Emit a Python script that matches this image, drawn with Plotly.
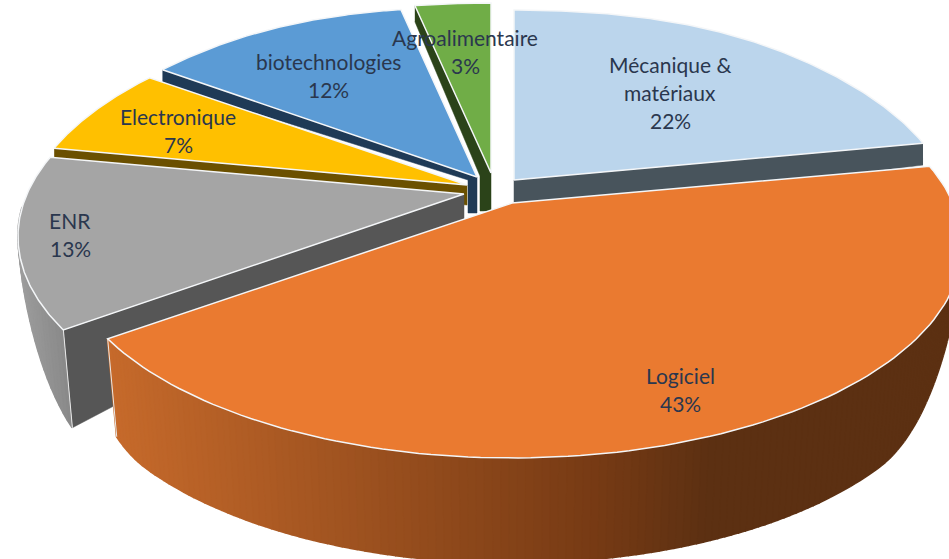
import numpy as np
import plotly.graph_objects as go

# ---- data ----
categories = ["Mécanique & matériaux", "Logiciel", "ENR", "Electronique", "biotechnologies", "Agroalimentaire"]
values = [22, 43, 13, 7, 12, 3]

# ---- style ----
top_colors = ["#bbd5ec", "#ea7a30", "#a5a5a5", "#ffc000", "#5b9bd5", "#70ad47"]
cut_colors = ["#48545c", "#5c3012", "#565656", "#6b5000", "#1f3a56", "#2b4319"]
apexes = [(514, 180), (512, 203), (464, 194), (467, 185), (477, 177), (491, 173)]
radii = [432, 441, 437, 436, 432, 432]
apex_wall = [36, 36, 28, 20, 36, 38]
side_step = [0, 0, 0, 0, 9, 11]
min_cut = [0, 0, 0, 0, 14, 16]
label_lines = [["Mécanique &", "matériaux"], ["Logiciel"], ["ENR"], ["Electronique"], ["biotechnologies"], ["Agroalimentaire"]]
label_xy = [(670, 64), (680, 375), (70, 220), (178, 116), (328, 61), (465, 37)]
draw_order = [5, 4, 0, 3, 2, 1]
TEXT = "#2a374e"
FONT = "Lato"
B, P = 204.0, 0.2


def project(i, theta):
    X, Y = np.sin(theta), -np.cos(theta)
    w = 1 - P * Y
    f = 1 + 0.14 * max(-Y, 0) ** 6
    return apexes[i][0] + radii[i] * X * f / w, apexes[i][1] + B * Y / w, X, Y


def ramp(Y):
    t = np.clip((Y - 0.1) / 0.58, 0, 1)
    return t * t * (3 - 2 * t)


def rim_h(Y):
    return 105 * ramp(Y)


def mix(a, b, t):
    ca = [int(a[k:k + 2], 16) for k in (1, 3, 5)]
    cb = [int(b[k:k + 2], 16) for k in (1, 3, 5)]
    return "rgb(%d,%d,%d)" % tuple(round(u + (v - u) * t) for u, v in zip(ca, cb))


def rim_color(i, x):
    if i == 1:
        if x < 600:
            return mix("#c66a2b", "#763a14", (x - 107) / 493)
        return mix("#763a14", "#5c3012", min((x - 600) / 110, 1))
    return mix("#9c9c9c", "#868686", np.clip((x - 20) / 50, 0, 1))


fig = go.Figure()


def poly(xs, ys, color, line=None, lw=0.5):
    fig.add_trace(go.Scatter(x=list(xs), y=list(ys), mode="lines", fill="toself", fillcolor=color,
                             line=dict(color=line or color, width=lw), hoverinfo="skip"))


edges = np.concatenate([[0], np.cumsum(values)]) / sum(values) * 2 * np.pi

for i in draw_order:
    a0, a1 = edges[i], edges[i + 1]
    mid = (a0 + a1) / 2
    ax, ay = apexes[i]
    # cut face
    th = a1 if mid < np.pi else a0
    sx, sy, X, Y = project(i, th)
    h = rim_h(Y) if Y > 0.2 else max(27 * (1 + min(Y, 0)), min_cut[i])
    dx = -X * 12 * ramp(Y)
    if i != 1:
        s = side_step[i]
        if s:
            poly([sx, ax, ax, ax - s, ax - s, sx + dx], [sy, ay, ay + apex_wall[i], ay + apex_wall[i], ay + 3, sy + h], cut_colors[i])
        else:
            poly([sx, ax, ax, sx + dx], [sy, ay, ay + apex_wall[i], sy + h], cut_colors[i])
    # outer wall (gradient strips)
    if i in (1, 2):
        ts = np.linspace(a0, a1, 180 if i == 1 else 40)
        for t0, t1 in zip(ts[:-1], ts[1:]):
            x0, y0, X0, Y0 = project(i, t0)
            x1, y1, X1, Y1 = project(i, t1)
            if Y0 < 0.08 and Y1 < 0.08:
                continue
            s0 = -X0 * 12 * ramp(Y0)
            s1 = -X1 * 12 * ramp(Y1)
            c = rim_color(i, (x0 + x1) / 2)
            poly([x0, x1, x1 + s1, x0 + s0], [y0, y1, y1 + rim_h(Y1), y0 + rim_h(Y0)], c, lw=2)
        xc, yc, Xc, Yc = project(i, a1 if i == 1 else a0)
        fig.add_trace(go.Scatter(x=[xc, xc - Xc * 12 * ramp(Yc)], y=[yc, yc + rim_h(Yc)], mode="lines",
                                 line=dict(color="#e8e8e8", width=1), hoverinfo="skip"))
    # top face
    ts = np.linspace(a0, a1, 120)
    pts = [project(i, t) for t in ts]
    poly([ax] + [p[0] for p in pts] + [ax], [ay] + [p[1] for p in pts] + [ay], top_colors[i], line="#f4f6f8", lw=1.5)

pcts = [round(100 * v / sum(values)) for v in values]
LH = 28
for lines, pct, (lx, ly) in zip(label_lines, pcts, label_xy):
    for n, txt in enumerate(lines + [f"{pct}%"]):
        fig.add_annotation(x=lx, y=ly + n * LH, text=txt, showarrow=False, xanchor="center", yanchor="middle",
                           font=dict(family=FONT, size=21, color=TEXT))

fig.update_layout(width=949, height=559, margin=dict(l=0, r=0, t=0, b=0), showlegend=False,
                  paper_bgcolor="white", plot_bgcolor="white",
                  xaxis=dict(range=[0, 949], visible=False, fixedrange=True),
                  yaxis=dict(range=[559, 0], visible=False, fixedrange=True))
fig.write_html("out.html", config={"displayModeBar": False},
               post_script="document.body.style.margin='0';document.body.style.overflow='hidden';")
